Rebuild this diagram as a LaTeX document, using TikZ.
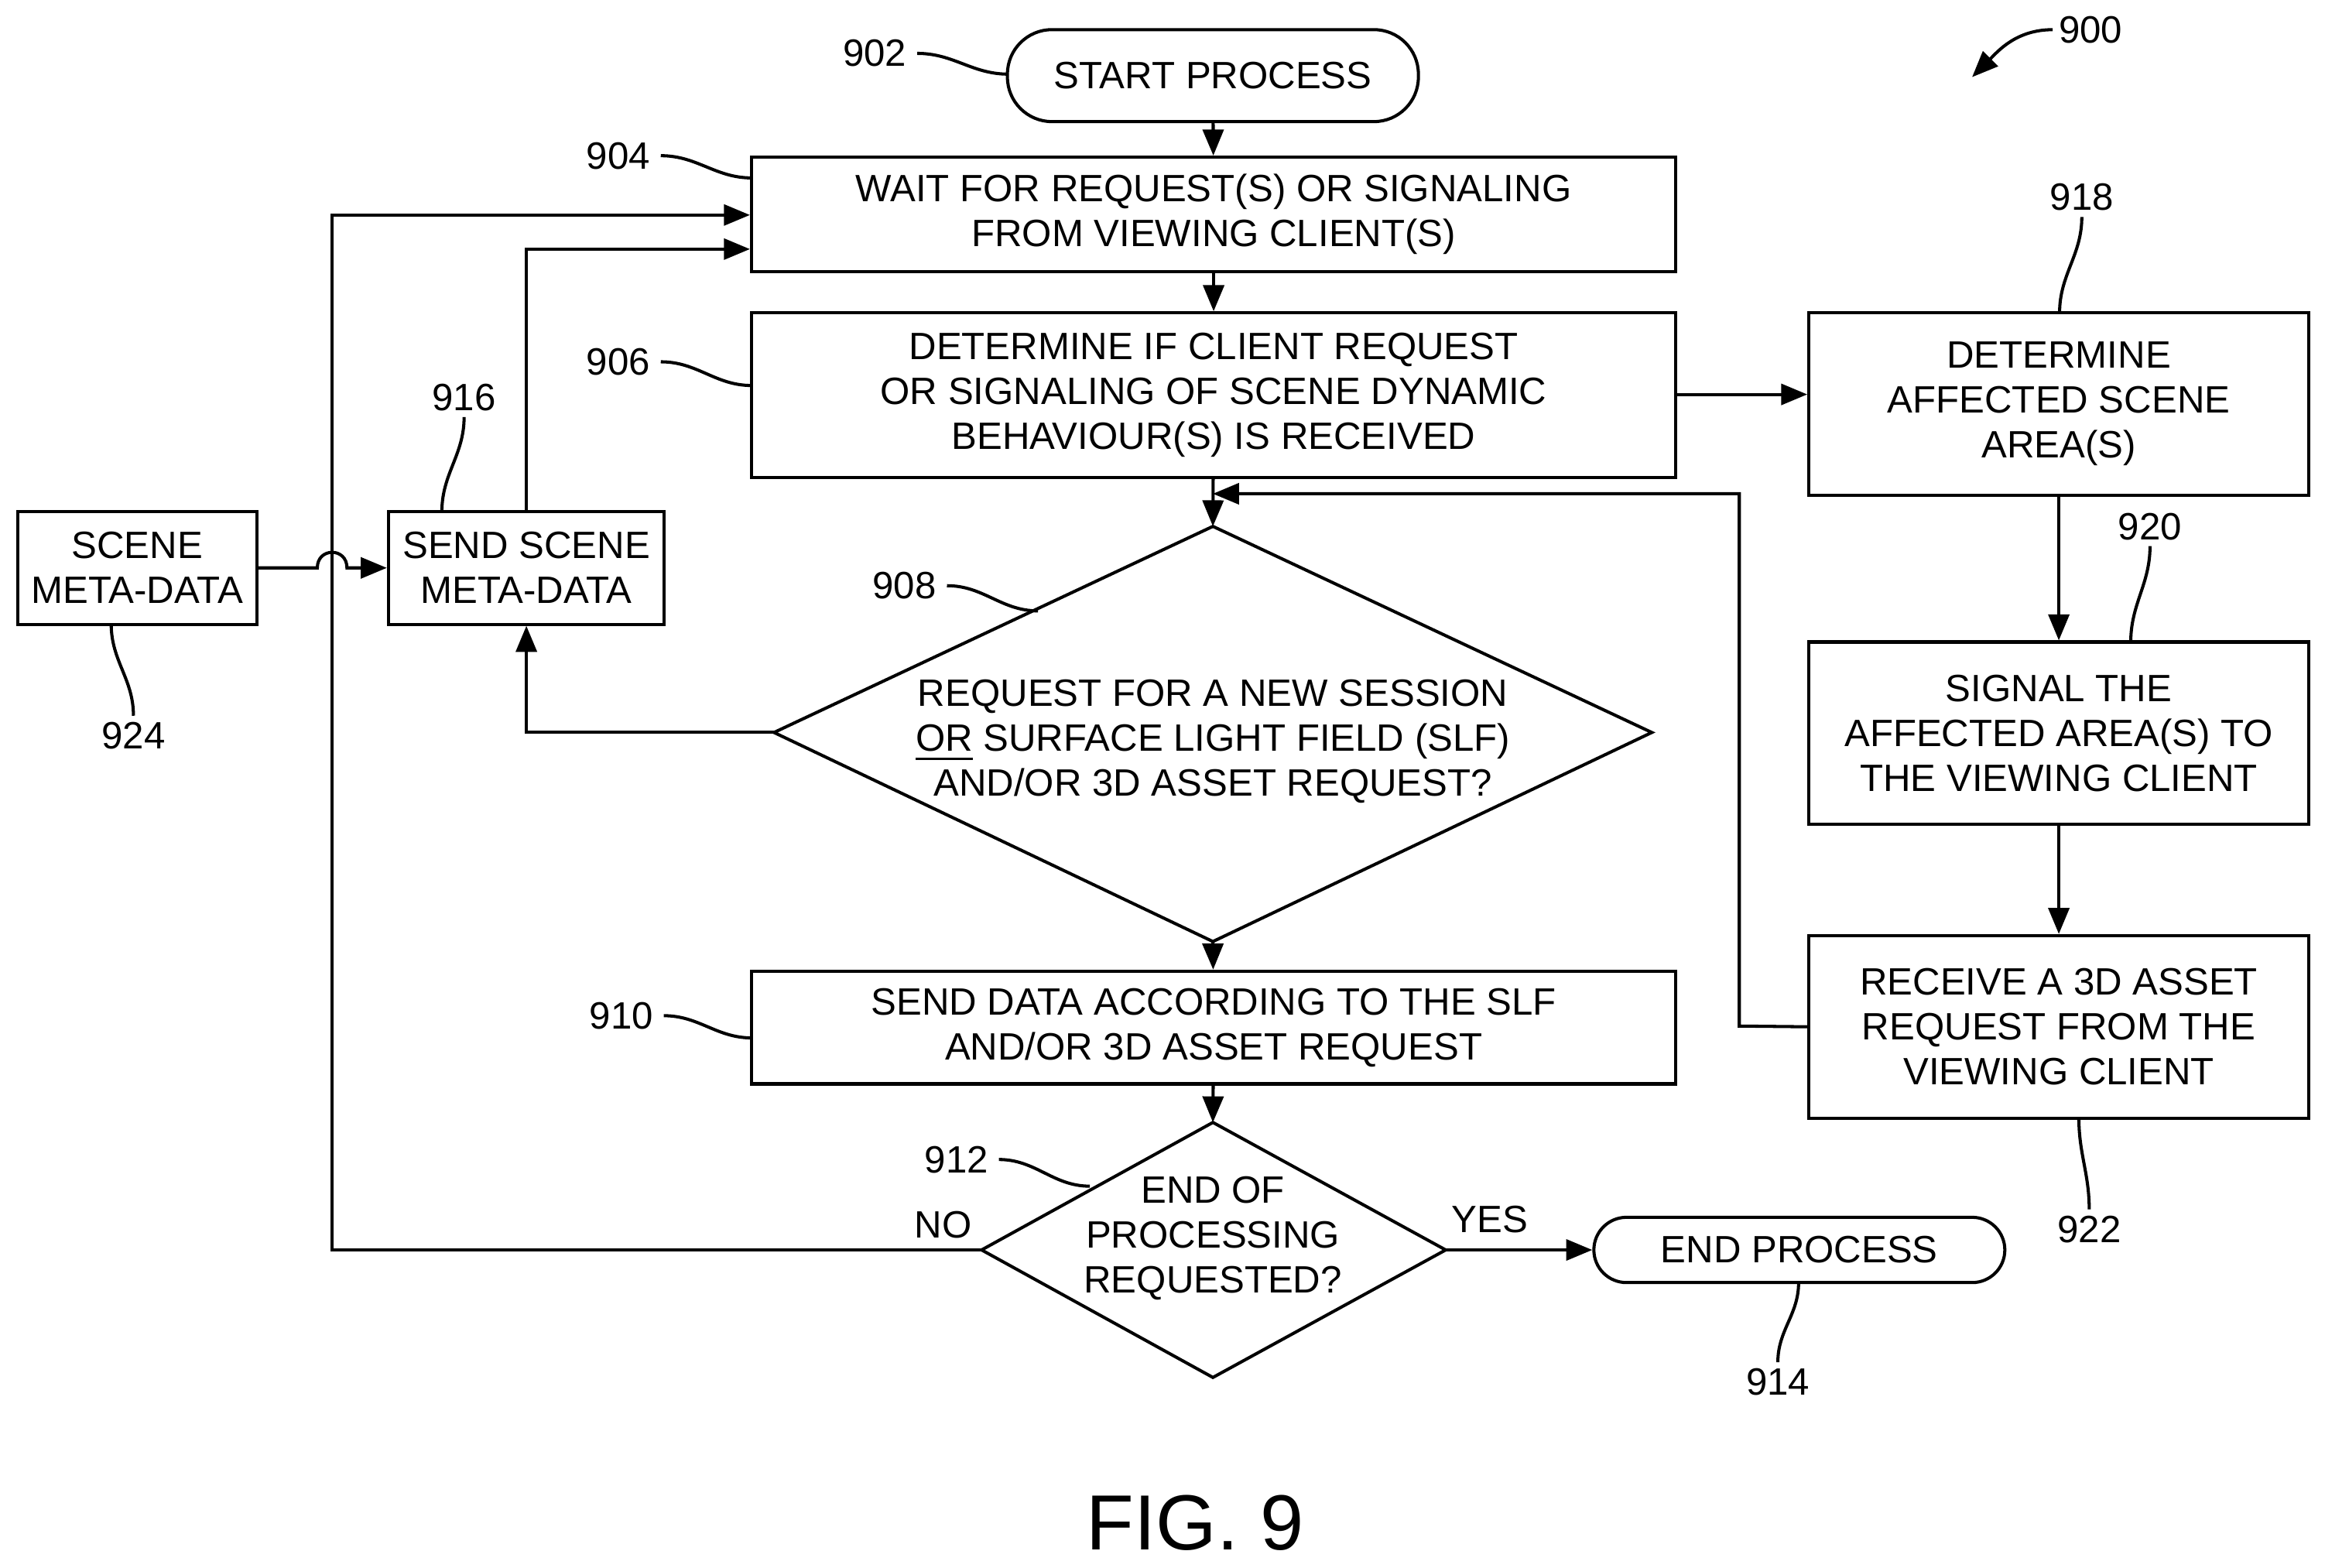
\documentclass[tikz,border=0pt]{standalone}
\usepackage{fontspec}
\setmainfont{Liberation Sans}
\usetikzlibrary{arrows.meta}
\begin{document}
\begin{tikzpicture}[x=0.01cm,y=-0.01cm,
  every node/.style={font=\fontsize{7.3}{8.6}\selectfont},
  box/.style={draw,line width=0.6pt,align=center,inner sep=0pt},
  lab/.style={inner sep=1pt},
  ar/.style={-{Triangle[length=5pt,width=4pt]},line width=0.6pt},
  ln/.style={line width=0.6pt}]
\useasboundingbox (0,0) rectangle (1568,1057);
\node[box,rounded corners=0.3cm,minimum width=2.77cm,minimum height=0.62cm] (start) at (818,51) {START PROCESS};
\node[box,minimum width=6.23cm,minimum height=0.77cm] (b904) at (818.5,144.5) {WAIT FOR REQUEST(S) OR SIGNALING\\FROM VIEWING CLIENT(S)};
\node[box,minimum width=6.23cm,minimum height=1.11cm] (b906) at (818.5,266.5) {DETERMINE IF CLIENT REQUEST\\OR SIGNALING OF SCENE DYNAMIC\\BEHAVIOUR(S) IS RECEIVED};
\coordinate (d8t) at (818,355); \coordinate (d8b) at (818,635);
\coordinate (d8l) at (522,494); \coordinate (d8r) at (1114,494);
\draw[ln] (d8t)--(d8r)--(d8b)--(d8l)--cycle;
\node[align=center] (t908) at (818,500) {REQUEST FOR A NEW SESSION\\\underline{OR} SURFACE LIGHT FIELD (SLF)\\AND/OR 3D ASSET REQUEST?};
\node[box,minimum width=6.23cm,minimum height=0.76cm] (b910) at (818.5,693) {SEND DATA ACCORDING TO THE SLF\\AND/OR 3D ASSET REQUEST};
\coordinate (d2t) at (818,757); \coordinate (d2b) at (818,929);
\coordinate (d2l) at (662,843); \coordinate (d2r) at (975,843);
\draw[ln] (d2t)--(d2r)--(d2b)--(d2l)--cycle;
\node[align=center] (t912) at (818,835) {END OF\\PROCESSING\\REQUESTED?};
\node[box,rounded corners=0.22cm,minimum width=2.77cm,minimum height=0.44cm] (end) at (1213.5,843) {END PROCESS};
\node[box,minimum width=3.37cm,minimum height=1.23cm] (b918) at (1388.5,272.5) {DETERMINE\\AFFECTED SCENE\\AREA(S)};
\node[box,minimum width=3.37cm,minimum height=1.23cm] (b920) at (1388.5,494.5) {SIGNAL THE\\AFFECTED AREA(S) TO\\THE VIEWING CLIENT};
\node[box,minimum width=3.37cm,minimum height=1.23cm] (b922) at (1388.5,692.5) {RECEIVE A 3D ASSET\\REQUEST FROM THE\\VIEWING CLIENT};
\node[box,minimum width=1.61cm,minimum height=0.76cm] (b924) at (92.5,383) {SCENE\\META-DATA};
\node[box,minimum width=1.86cm,minimum height=0.76cm] (b916) at (355,383) {SEND SCENE\\META-DATA};
\node (fig) at (806,1027) {\fontsize{15}{18}\selectfont FIG. 9};
% connectors
\draw[ar] (start)--(b904);
\draw[ar] (b904)--(b906);
\draw[ar] (b906)--(d8t);
\draw[ar] (d8b)--(b910);
\draw[ar] (b910)--(d2t);
\draw[ar] (d2r)--(end) node[pos=0.3,above=2pt,lab] {YES};
\draw[ar] (d2l)--(224,843)--(224,145)--(b904.west|-0,145);
\node[lab] (no) at (636,826) {NO};
\draw[ar] (b916.north)--(355,168)--(b904.west|-0,168);
\draw[ar] (d8l)--(355,494)--(b916.south);
\draw[ar] (b924.east)--(214,383) .. controls (214,369) and (234,369) .. (234,383)--(b916.west);
\draw[ar] (b906.east|-0,266)--(b918.west|-0,266);
\draw[ar] (b918)--(b920);
\draw[ar] (b920)--(b922);
\draw[ar] (b922.west)--(1173,692)--(1173,333)--(818,333);
% labels
\tikzset{sq/.style={ln,out=0,in=180}}
\node[lab] (l902) at (590,36) {902}; \draw[sq] (l902.east)+(3,0) to (680,50);
\node[lab] (l904) at (417,105) {904}; \draw[sq] (l904.east)+(3,0) to (507,120);
\node[lab] (l906) at (417,244) {906}; \draw[sq] (l906.east)+(3,0) to (507,260);
\node[lab] (l908) at (610,395) {908}; \draw[sq] (l908.east)+(3,0) to (700,412);
\node[lab] (l910) at (419,685) {910}; \draw[sq] (l910.east)+(3,0) to (507,700);
\node[lab] (l912) at (645,782) {912}; \draw[sq] (l912.east)+(3,0) to (735,800);
\node[lab] (l916) at (313,268) {916}; \draw[ln] (l916.south) to[out=270,in=90] (298,345);
\node[lab] (l918) at (1404,133) {918}; \draw[ln] (l918.south) to[out=270,in=90] (1389,211);
\node[lab] (l920) at (1450,355) {920}; \draw[ln] (l920.south) to[out=270,in=90] (1437,433);
\node[lab] (l922) at (1409,829) {922}; \draw[ln] (l922.north) to[out=90,in=270] (1402,754);
\node[lab] (l924) at (90,496) {924}; \draw[ln] (l924.north) to[out=90,in=270] (75,421);
\node[lab] (l914) at (1199,932) {914}; \draw[ln] (l914.north) to[out=90,in=270] (1213,865);
\node[lab] (l900) at (1410,20) {900};
\draw[ar] (l900.west) to[out=180,in=45] (1330,52);
\end{tikzpicture}
\end{document}
